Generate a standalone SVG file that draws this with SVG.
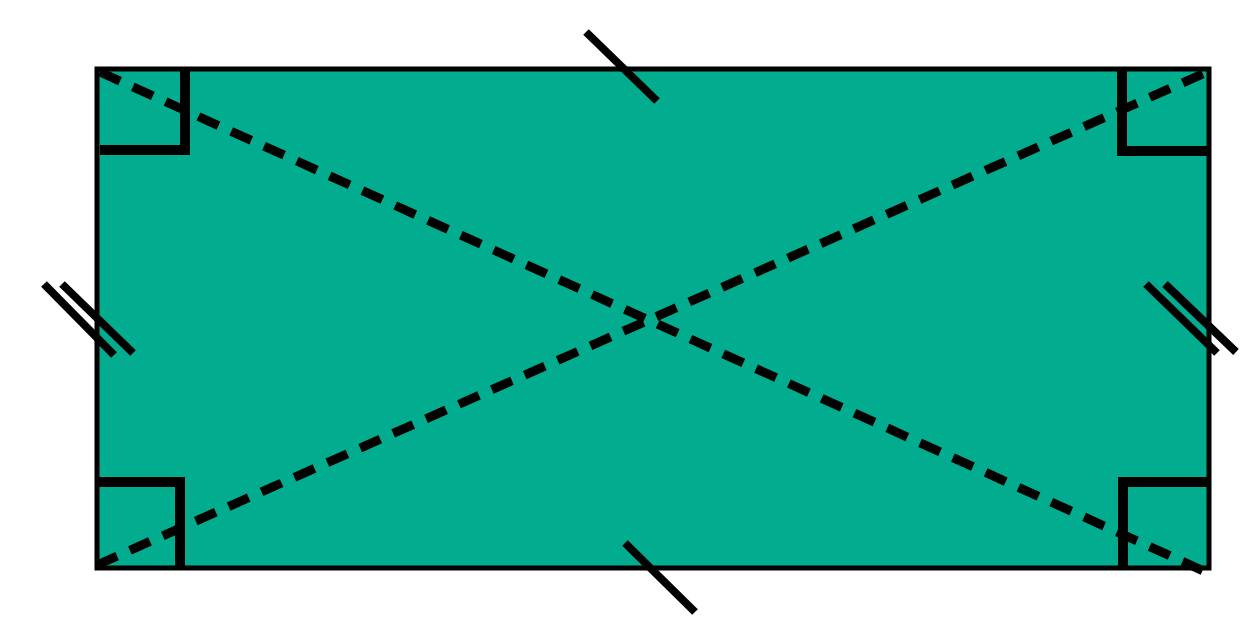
<svg xmlns="http://www.w3.org/2000/svg" width="1248" height="640" viewBox="0 0 1248 640">
<style>
.rect{fill:#02ac8f;stroke:#000;stroke-width:5}
.ang{fill:none;stroke:#000;stroke-width:10;stroke-linecap:butt;stroke-linejoin:miter}
.diag{stroke:#000;stroke-width:9;stroke-dasharray:22 14;fill:none}
.tick{stroke:#000;stroke-width:8;stroke-linecap:butt}
</style>
<rect width="1248" height="640" fill="#fff"/>
<g id="rectangle">
<rect class="rect" x="97" y="69" width="1112" height="499"/>
</g>
<g id="right-angles">
<polyline class="ang" points="100,150 185,150 185,71"/>
<polyline class="ang" points="1207,151 1122,151 1122,71"/>
<polyline class="ang" points="99,482 180,482 180,566"/>
<polyline class="ang" points="1207,482 1123,482 1123,566"/>
</g>
<g id="connectors">
<line class="diag" x1="100" y1="72" x2="1208" y2="573"/>
<line class="diag" x1="97" y1="565" x2="1207" y2="72"/>
</g>
<g id="ticks">
<line class="tick" x1="586" y1="32" x2="657" y2="101"/>
<line class="tick" x1="625" y1="543" x2="695" y2="612"/>
<line class="tick" x1="44" y1="284" x2="114" y2="355"/>
<line class="tick" x1="62" y1="284" x2="133" y2="353"/>
<line class="tick" x1="1146" y1="284" x2="1217" y2="353"/>
<line class="tick" x1="1165" y1="284" x2="1236" y2="352"/>
</g>
</svg>
